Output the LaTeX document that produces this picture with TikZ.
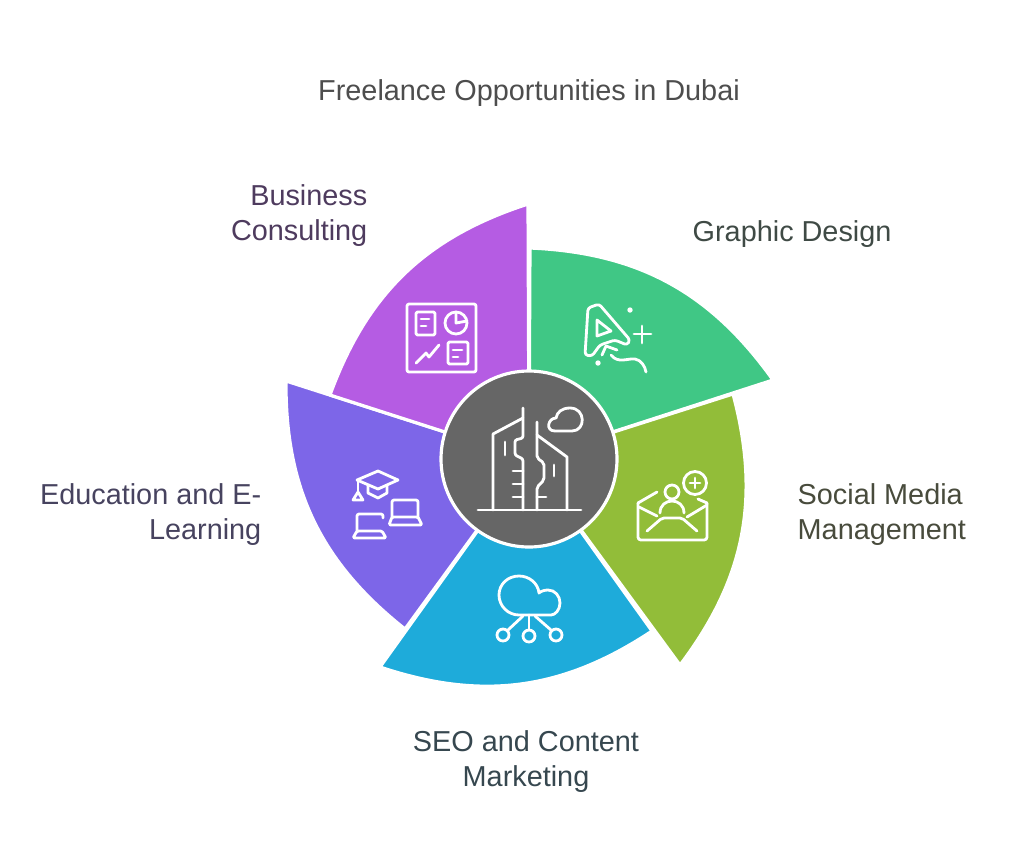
\documentclass[tikz,border=0pt]{standalone}
\usepackage{fontspec}
\setmainfont{Liberation Sans}
\usepackage{xcolor}
\definecolor{graphicgreen}{HTML}{40C785}
\definecolor{socialolive}{HTML}{92BD39}
\definecolor{seoblue}{HTML}{1EABDA}
\definecolor{eduviolet}{HTML}{7D66E8}
\definecolor{bizpurple}{HTML}{B55CE3}
\definecolor{hubgray}{HTML}{666666}
\definecolor{titletext}{HTML}{4D4D4D}
\definecolor{graphictext}{HTML}{3F4A45}
\definecolor{socialtext}{HTML}{484B3C}
\definecolor{seotext}{HTML}{36474F}
\definecolor{edutext}{HTML}{47435F}
\definecolor{biztext}{HTML}{4E3B5E}
\tikzset{
  petal/.style={draw=white,line width=0.9pt,line join=round},
  icon/.style={draw=white,line width=0.8pt,line cap=round,line join=round},
  lbl/.style={font=\fontsize{8.2}{9.95}\selectfont,inner sep=0pt}
}

\begin{document}
\begin{tikzpicture}[x=0.01cm,y=-0.01cm]
\useasboundingbox (0,0) rectangle (1024,866);

% sectors
\filldraw[petal,fill=graphicgreen] (529,459) -- (530,248) to[bend left=26] (773,380) -- cycle;
\filldraw[petal,fill=socialolive] (529,459) -- (733,394) to[bend left=26] (680,665) -- cycle;
\filldraw[petal,fill=seoblue] (529,459) -- (652,631) to[bend left=26] (380,667) -- cycle;
\filldraw[petal,fill=eduviolet] (529,459) -- (405,629) to[bend left=26] (286,381) -- cycle;
\filldraw[petal,fill=bizpurple] (529,459) -- (330,395) to[bend left=26] (528,204) -- cycle;

\filldraw[petal,fill=hubgray] (529,459) circle (88);

% city in the hub
\draw[icon] (478,510) -- (581,510);
\draw[icon] (493,510) -- (493,434) -- (523,418);
\draw[icon,rounded corners=0.6pt] (523,408) -- (523,438) -- (515,440) -- (515,455) -- (523,459) -- (523,510);
\draw[icon] (513,471) -- (523,471);
\draw[icon] (513,484) -- (523,484);
\draw[icon] (513,497) -- (523,497);
\draw[icon] (505,442) -- (505,455);
\draw[icon,rounded corners=0.6pt] (537,422) -- (537,458) -- (544,463) -- (544,480) -- (537,487) -- (537,510);
\draw[icon] (537,497) -- (546,497);
\draw[icon] (537,435) -- (567,457) -- (567,510);
\draw[icon] (554,465) -- (554,476);
\draw[icon] (555,431) -- (572,431) .. controls (586,431) and (586,408) .. (570,408) .. controls (562,408) and (557,412) .. (556,418) .. controls (548,418) and (545,431) .. (555,431) -- cycle;

% report board
\draw[icon,rounded corners=0.6pt] (407,304) rectangle (476,372);
\draw[icon,rounded corners=0.4pt] (416,312) rectangle (435,335);
\draw[icon] (421,319) -- (429,319);
\draw[icon] (421,326) -- (426,326);
\draw[icon] (456,323) circle (11);
\draw[icon] (456,312) -- (456,323) -- (467,321);
\draw[icon] (416,363) -- (426,353) -- (429,357) -- (439,345);
\draw[icon,rounded corners=0.4pt] (448,342) rectangle (468,364);
\draw[icon] (453,350) -- (462,350);
\draw[icon] (453,357) -- (458,357);

% letter with pen
\draw[icon,rounded corners=0.8pt] (585,355) -- (588,308) -- (599,304) -- (630,340) -- (627,345) -- (615,340) -- (600,345) -- (592,356) -- cycle;
\draw[icon] (597,320) -- (611,331) -- (597,336) -- cycle;
\draw[icon] (602,355) -- (606,346) -- (617,350);
\draw[icon] (611,355) .. controls (618,364) and (628,358) .. (635,359) .. controls (641,360) and (645,366) .. (646,372);
\fill[white] (630,310) circle (2.7);
\fill[white] (598,363) circle (2.7);
\draw[icon] (634,334) -- (651,334);
\draw[icon] (642,326) -- (642,343);

% envelope with person
\draw[icon,rounded corners=0.8pt] (638,503) -- (638,540) -- (707,540) -- (707,503);
\draw[icon] (638,503) -- (657,492);
\draw[icon] (698,499) -- (707,503);
\draw[icon] (639,507) -- (657,516);
\draw[icon] (707,505) -- (687,517);
\draw[icon,rounded corners=0.6pt] (647,531) -- (662,518) -- (682,518) -- (697,531);
\draw[icon] (672,492) circle (7);
\draw[icon] (660,513) .. controls (660,497) and (684,497) .. (684,513);
\draw[icon] (695,483) circle (11.5);
\draw[icon] (690,483) -- (700,483);
\draw[icon] (695,478) -- (695,488);

% cloud network
\draw[icon] (519,615) .. controls (508,615) and (499,606) .. (499,595) .. controls (499,584) and (508,576) .. (519,576) .. controls (529,576) and (538,583) .. (539,593) .. controls (541,591) and (545,590) .. (548,590) .. controls (555,590) and (560,596) .. (560,603) .. controls (560,610) and (555,615) .. (551,615) -- cycle;
\draw[icon] (529,615) -- (529,630);
\draw[icon] (523,616) -- (508,630);
\draw[icon] (535,616) -- (551,630);
\draw[icon] (503,635) circle (6);
\draw[icon] (529,636) circle (6);
\draw[icon] (556,635) circle (6);

% cap and laptops
\draw[icon] (357,480) -- (378,471) -- (398,480) -- (378,489) -- cycle;
\draw[icon] (368,485) -- (368,493) -- (378,498) -- (387,493) -- (387,485);
\draw[icon] (358,481) -- (358,493);
\draw[icon] (358,492) -- (353,500) -- (363,500) -- cycle;
\draw[icon,rounded corners=0.6pt] (392,517) -- (392,500) -- (418,500) -- (418,517);
\draw[icon,rounded corners=0.4pt] (392,517) -- (418,517) -- (422,525) -- (389,525) -- cycle;
\draw[icon,rounded corners=0.6pt] (357,531) -- (357,514) -- (383,514) -- (383,518);
\draw[icon,rounded corners=0.4pt] (357,531) -- (382,531) -- (386,538) -- (353,538) -- cycle;

% labels
\node[lbl,text=titletext] (title) at (529,93) {Freelance Opportunities in Dubai};
\node[lbl,text=graphictext,anchor=west] (graphic) at (692,234) {Graphic Design};
\node[lbl,text=socialtext,anchor=west,align=left] (social) at (797,515) {Social Media\\Management};
\node[lbl,text=seotext,align=center] (seo) at (526,762) {SEO and Content\\Marketing};
\node[lbl,text=edutext,anchor=east,align=right] (edu) at (262,515) {Education and E-\\Learning};
\node[lbl,text=biztext,anchor=east,align=right] (biz) at (368,216) {Business\\Consulting};
\end{tikzpicture}
\end{document}
